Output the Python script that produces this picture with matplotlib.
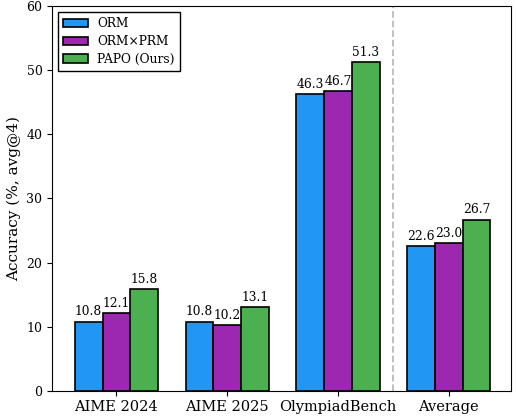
import numpy as np
import matplotlib
matplotlib.use("Agg")
import matplotlib.pyplot as plt

plt.rcParams["font.family"] = "DejaVu Serif"

benchmarks = ["AIME 2024", "AIME 2025", "OlympiadBench", "Average"]
methods = ["ORM", "ORM×PRM", "PAPO (Ours)"]
orm = [10.8, 10.8, 46.3, 22.6]
orm_prm = [12.1, 10.2, 46.7, 23.0]
papo = [15.8, 13.1, 51.3, 26.7]
colors = ["#2196F3", "#9C27B0", "#4CAF50"]

fig, ax = plt.subplots(figsize=(5.16, 4.17), dpi=100)
x = np.arange(len(benchmarks))
width = 0.25

for i, (vals, name, c) in enumerate(zip([orm, orm_prm, papo], methods, colors)):
    bars = ax.bar(x + (i - 1) * width, vals, width, label=name, color=c,
                  edgecolor="black", linewidth=1.2)
    for b, v in zip(bars, vals):
        ax.text(b.get_x() + b.get_width() / 2, v + 0.5, f"{v:.1f}",
                ha="center", va="bottom", fontsize=8.8)

ax.axvline(2.5, color="#bbbbbb", linestyle="--", linewidth=1.3)
ax.set_xticks(x)
ax.set_xticklabels(benchmarks, fontsize=10.5)
ax.set_ylim(0, 60)
ax.set_xlim(-0.58, 3.56)
ax.set_ylabel("Accuracy (%, avg@4)", fontsize=11)
ax.tick_params(axis="y", labelsize=9)
ax.legend(loc="upper left", fontsize=8.8, fancybox=False, edgecolor="black",
          framealpha=1, labelspacing=0.4)

fig.subplots_adjust(left=0.101, right=0.99, top=0.985, bottom=0.063)
fig.savefig("out.png", dpi=100)
